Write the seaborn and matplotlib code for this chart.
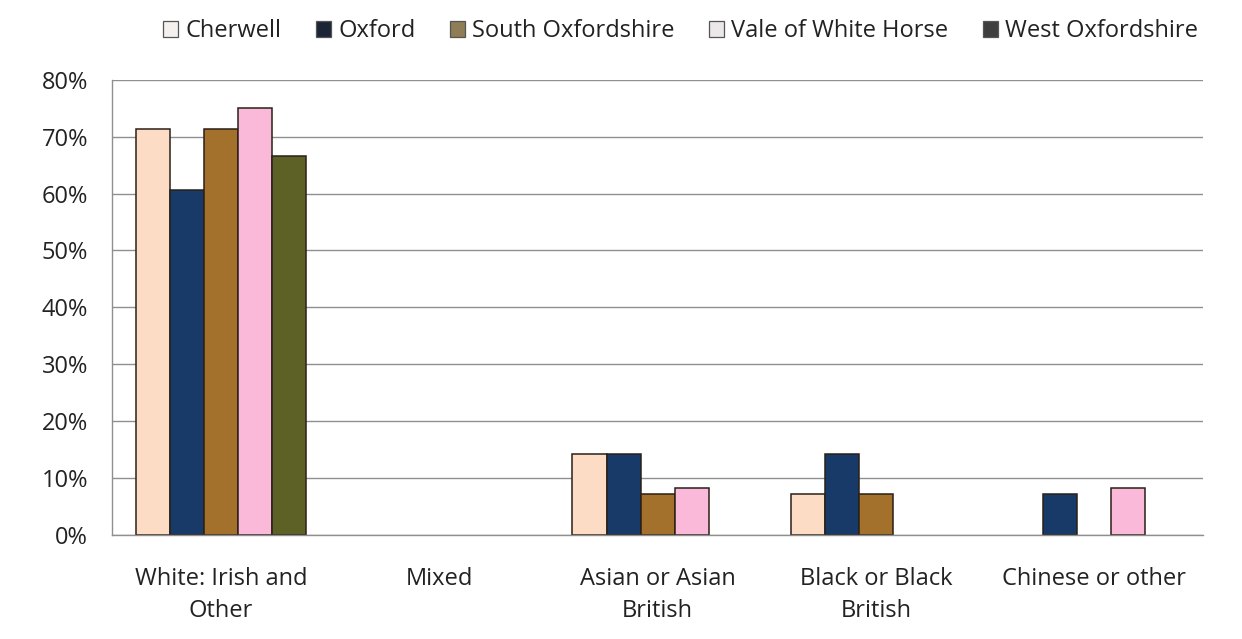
import matplotlib
matplotlib.use("Agg")
import matplotlib.pyplot as plt
import seaborn as sns
import pandas as pd
from matplotlib.patches import Patch
from matplotlib.ticker import PercentFormatter, FixedLocator

categories = ["White: Irish and\nOther", "Mixed", "Asian or Asian\nBritish",
              "Black or Black\nBritish", "Chinese or other"]
districts = ["Cherwell", "Oxford", "South Oxfordshire", "Vale of White Horse", "West Oxfordshire"]

cherwell = [71.4, 0.0, 14.3, 7.1, 0.0]
oxford = [60.7, 0.0, 14.3, 14.3, 7.1]
south_oxfordshire = [71.4, 0.0, 7.1, 7.1, 0.0]
vale_of_white_horse = [75.0, 0.0, 8.3, 0.0, 8.3]
west_oxfordshire = [66.7, 0.0, 0.0, 0.0, 0.0]

series = [cherwell, oxford, south_oxfordshire, vale_of_white_horse, west_oxfordshire]
rows = []
for name, vals in zip(districts, series):
    for cat, v in zip(categories, vals):
        rows.append({"category": cat, "district": name, "share": v})
df = pd.DataFrame(rows)

bar_colors = ["#FCDCC4", "#173A68", "#A4712C", "#FBB9DA", "#5E6126"]
legend_colors = ["#F4F0EE", "#1B2436", "#8E7D55", "#ECE8EA", "#3E3E3E"]

sns.set_theme(style="white")
plt.rcParams["font.family"] = ["Open Sans", "DejaVu Sans"]

fig = plt.figure(figsize=(12.42, 6.39), dpi=100)
ax = fig.add_axes([0.090, 0.163, 0.879, 0.712])

sns.barplot(data=df, x="category", y="share", hue="district", order=categories,
            hue_order=districts, palette=bar_colors, saturation=1, width=0.78,
            edgecolor="#2a2018", linewidth=1.1, ax=ax, legend=False, errorbar=None)

# empty categories get no outline along the baseline
for patch in ax.patches:
    if patch.get_height() == 0:
        patch.set_visible(False)

ax.set_ylim(0, 80)
ax.set_xlim(-0.5, len(categories) - 0.5)
ax.yaxis.set_major_locator(FixedLocator(range(0, 81, 10)))
ax.yaxis.set_major_formatter(PercentFormatter(decimals=0))
ax.yaxis.grid(True, color="#8f8f8f", linewidth=1.0)
ax.set_axisbelow(True)

for side in ["top", "right"]:
    ax.spines[side].set_visible(False)
for side in ["left", "bottom"]:
    ax.spines[side].set_color("#8f8f8f")
    ax.spines[side].set_linewidth(1.0)

text_color = "#222222"
ax.tick_params(axis="y", which="major", direction="out", length=6, width=1,
               color="#8f8f8f", labelsize=17, labelcolor=text_color, pad=11)
ax.tick_params(axis="x", which="major", length=0, labelsize=17,
               labelcolor=text_color, pad=23)
ax.set_xticks(range(len(categories)))
for lbl in ax.get_xticklabels():
    lbl.set_linespacing(1.45)
ax.set_xticks([i + 0.5 for i in range(-1, len(categories))], minor=True)
ax.tick_params(axis="x", which="minor", direction="out", length=6, width=1,
               color="#8f8f8f")
ax.set_xlabel("")
ax.set_ylabel("")

handles = [Patch(facecolor=c, edgecolor="#555555", linewidth=0.9, label=d)
           for c, d in zip(legend_colors, districts)]
fig.legend(handles=handles, loc="center", bbox_to_anchor=(0.548, 0.951), ncol=5,
           frameon=False, fontsize=17, handlelength=0.65, handleheight=0.65,
           handletextpad=0.3, columnspacing=1.45, labelcolor=text_color)

fig.savefig("out.png", dpi=100, facecolor="white")
